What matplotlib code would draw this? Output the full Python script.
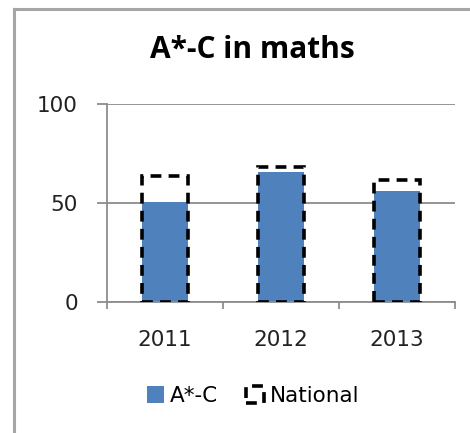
import matplotlib.pyplot as plt
from matplotlib.patches import Rectangle
from matplotlib.lines import Line2D
import numpy as np

years = ['2011', '2012', '2013']
a_star_c = [50.5, 65.7, 56.3]
national = [63.6, 68.0, 61.6]

fig = plt.figure(figsize=(4.7, 4.33), dpi=100)
fig.patch.set_facecolor('white')

# chart area border (left and top edges visible)
fig.add_artist(Line2D([14/470, 14/470], [0, 1 - 9/433], color='#a6a6a6', lw=2.2))
fig.add_artist(Line2D([14/470, 1], [1 - 9/433, 1 - 9/433], color='#a6a6a6', lw=2.2))

ax = fig.add_axes([107/470, 131/433, 348/470, 198/433])
x = np.arange(len(years))

ax.bar(x, a_star_c, width=0.4, color='#4f81bd', zorder=2)
ax.bar(x, national, width=0.4, facecolor='none', edgecolor='black',
       linewidth=2.6, linestyle=(0, (3, 2)), zorder=3)

ax.set_xlim(-0.5, 2.5)
ax.set_ylim(0, 100)
ax.set_yticks([0, 50, 100])
ax.yaxis.grid(True, color='#8c8c8c', linewidth=1.3, zorder=1)
ax.set_axisbelow(True)

ax.set_xticks(x)
ax.set_xticklabels(years)
ax.set_xticks([-0.5, 0.5, 1.5, 2.5], minor=True)
ax.tick_params(axis='x', which='major', length=0, pad=20, labelsize=15.5,
               labelcolor='#222222')
ax.tick_params(axis='x', which='minor', length=5, width=1.3, color='#8c8c8c')
ax.tick_params(axis='y', length=7, width=1.3, color='#8c8c8c', pad=14,
               labelsize=15.5, labelcolor='#222222')

for s in ['top', 'right']:
    ax.spines[s].set_visible(False)
for s in ['left', 'bottom']:
    ax.spines[s].set_color('#8c8c8c')
    ax.spines[s].set_linewidth(1.3)

fig.text(252/470, 1 - 50/433, 'A*-C in maths', ha='center', va='center',
         fontsize=21.5, fontweight='bold', family='Open Sans')

handles = [Rectangle((0, 0), 1, 1, facecolor='#4f81bd', edgecolor='none'),
           Rectangle((0, 0), 1, 1, facecolor='white', edgecolor='black',
                     linewidth=2.6, linestyle=(0, (3, 2)))]
fig.legend(handles, ['A*-C', 'National'], loc='center', ncol=2,
           bbox_to_anchor=(253/470, 1 - 396/433), frameon=False,
           fontsize=15.5, handlelength=0.8, handleheight=0.8,
           handletextpad=0.3, columnspacing=1.3)

fig.savefig('out.png', dpi=100)
